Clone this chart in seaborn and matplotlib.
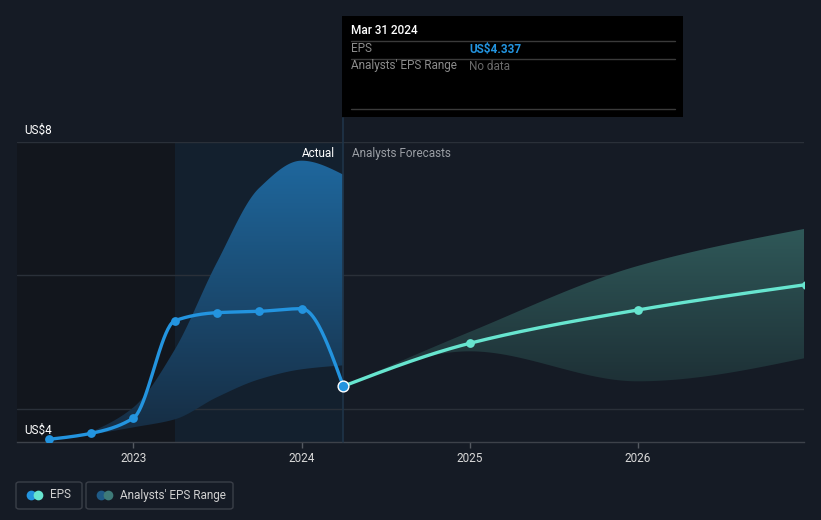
import numpy as np
import pandas as pd
import seaborn as sns
import matplotlib.pyplot as plt
from matplotlib.colors import LinearSegmentedColormap
from matplotlib.patches import Rectangle, FancyBboxPatch
from matplotlib.lines import Line2D

# ---- data ----
eps_dates = ['2022-06-30', '2022-09-30', '2022-12-31', '2023-03-31',
             '2023-06-30', '2023-09-30', '2023-12-31', '2024-03-31']
eps_values = [3.54, 3.63, 3.86, 5.32, 5.44, 5.46, 5.50, 4.337]

past_range_dates = ['2022-09-30', '2022-12-31', '2023-03-31', '2023-06-30',
                    '2023-09-30', '2023-12-31', '2024-03-31']
past_range_low = [3.61, 3.72, 3.84, 4.17, 4.44, 4.59, 4.65]
past_range_high = [3.65, 4.02, 4.89, 6.19, 7.31, 7.72, 7.51]

fc_dates = ['2024-03-31', '2024-12-31', '2025-12-31', '2026-12-31']
fc_eps = [4.337, 4.98, 5.48, 5.86]
fc_low = [4.337, 4.86, 4.41, 4.76]
fc_high = [4.337, 5.15, 6.14, 6.70]

year_ticks = [2023, 2024, 2025, 2026]
year_labels = ['2023', '2024', '2025', '2026']
y_labels = ['US$8', 'US$4']
grid_values = [8.0, 6.0, 4.0]

BG = '#151b25'
BLUE = '#2394df'
TEAL = '#67e5cf'


def dec_year(dates):
    d = pd.to_datetime(pd.Series(dates))
    days = np.where(d.dt.is_leap_year, 366, 365)
    return (d.dt.year + d.dt.dayofyear / days).to_numpy(dtype=float)


def smooth(x, y, n=300):
    # monotone cubic (same idea as d3 curveMonotoneX), only for drawing
    x = np.asarray(x, float)
    y = np.asarray(y, float)
    h = np.diff(x)
    d = np.diff(y) / h
    m = np.zeros_like(y)
    for i in range(1, len(y) - 1):
        if d[i - 1] * d[i] <= 0:
            m[i] = 0
        else:
            w1 = 2 * h[i] + h[i - 1]
            w2 = h[i] + 2 * h[i - 1]
            m[i] = (w1 + w2) / (w1 / d[i - 1] + w2 / d[i])
    if len(y) > 2:
        m[0] = (3 * d[0] - m[1]) / 2
        m[-1] = (3 * d[-1] - m[-2]) / 2
    else:
        m[:] = d[0]
    xs = np.linspace(x[0], x[-1], n)
    idx = np.clip(np.searchsorted(x, xs) - 1, 0, len(h) - 1)
    t = (xs - x[idx]) / h[idx]
    h00 = 2 * t**3 - 3 * t**2 + 1
    h10 = t**3 - 2 * t**2 + t
    h01 = -2 * t**3 + 3 * t**2
    h11 = t**3 - t**2
    ys = h00 * y[idx] + h10 * h[idx] * m[idx] + h01 * y[idx + 1] + h11 * h[idx] * m[idx + 1]
    return xs, ys


def gradient_fill(ax, x, lo, hi, c_bot, c_top, y0, y1, z):
    poly = ax.fill_between(x, lo, hi, facecolor='none', edgecolor='none')
    cmap = LinearSegmentedColormap.from_list('g', [c_bot, c_top])
    grad = np.linspace(0, 1, 256).reshape(-1, 1)
    im = ax.imshow(grad, cmap=cmap, aspect='auto', origin='lower',
                   extent=[x.min(), x.max(), y0, y1], zorder=z)
    im.set_clip_path(poly.get_paths()[0], transform=ax.transData)


sns.set_theme(style='dark')
plt.rcParams['font.family'] = ['Roboto', 'DejaVu Sans']

W, H = 821, 520
fig = plt.figure(figsize=(8.21, 5.2), dpi=100, facecolor=BG)


def fx(px):
    return px / W


def fy(py):
    return 1 - py / H


ax = fig.add_axes([fx(17), fy(442), fx(804) - fx(17), fy(142) - fy(442)])
ax.set_facecolor(BG)

x_eps = dec_year(eps_dates)
x_past = dec_year(past_range_dates)
x_fc = dec_year(fc_dates)
now = x_eps[-1]
XMIN, XMAX = 2022.307, 2026.99
YMIN, YMAX = 3.5, 8.0

# shaded periods
ax.axvspan(XMIN, x_eps[3], color='#12161d', zorder=0, lw=0)
ax.axvspan(x_eps[3], now, color='#13202e', zorder=0, lw=0)

for g in grid_values:
    ax.axhline(g, color='#2a3039', lw=1, zorder=1)

# analyst ranges
xs, lo = smooth(x_past, past_range_low)
_, hi = smooth(x_past, past_range_high)
gradient_fill(ax, xs, lo, hi, '#162b40', '#1f6ba3', YMIN, YMAX, 2)

xs, lo = smooth(x_fc, fc_low)
_, hi = smooth(x_fc, fc_high)
gradient_fill(ax, xs, lo, hi, '#1d2f35', '#305a5a', 4.3, 6.8, 2)

# EPS lines
xs, ys = smooth(x_eps, eps_values)
sns.lineplot(x=xs, y=ys, ax=ax, color=BLUE, lw=2.4, zorder=4)
xs, ys = smooth(x_fc, fc_eps)
sns.lineplot(x=xs, y=ys, ax=ax, color=TEAL, lw=2.4, zorder=4)

sns.scatterplot(x=x_eps[:-1], y=eps_values[:-1], ax=ax, color=BLUE, s=40,
                linewidth=0, zorder=5)
sns.scatterplot(x=x_fc[1:], y=fc_eps[1:], ax=ax, color=TEAL, s=40,
                linewidth=0, zorder=5)
sns.scatterplot(x=[now], y=[eps_values[-1]], ax=ax, color=BLUE, s=60,
                edgecolor='white', linewidth=1, zorder=6)

ax.axvline(now, ymin=0, ymax=(442 - 118) / 300, color='#1f3448', lw=1.2,
           zorder=3, clip_on=False)

ax.text(now - 0.05, 7.82, 'Actual', color='white', fontsize=8.5,
        ha='right', va='center', zorder=7)
ax.text(now + 0.05, 7.82, 'Analysts Forecasts', color='#9a9ea4', fontsize=8.5,
        ha='left', va='center', zorder=7)

ax.set_xlim(XMIN, XMAX)
ax.set_ylim(YMIN, YMAX)
ax.set_xticks(year_ticks)
ax.set_xticklabels(year_labels)
ax.set_yticks([])
ax.tick_params(axis='x', colors='#555a62', labelcolor='#d8d8d8', labelsize=8.5,
               length=4, width=1, pad=3, bottom=True)
for s in ['top', 'left', 'right']:
    ax.spines[s].set_visible(False)
ax.spines['bottom'].set_color('#3d424a')
ax.spines['bottom'].set_linewidth(1)
ax.set_xlabel('')
ax.set_ylabel('')
ax.grid(False)

fig.text(fx(24), fy(130), y_labels[0], color='white', fontsize=8.5, va='center')
fig.text(fx(24), fy(430), y_labels[1], color='white', fontsize=8.5, va='center')

# tooltip box
fig.add_artist(Rectangle((fx(342), fy(117)), fx(683) - fx(342), fy(16) - fy(117),
                         transform=fig.transFigure, facecolor='black',
                         edgecolor='none', zorder=10))
for py in [41.5, 58.5, 109]:
    fig.add_artist(Line2D([fx(351), fx(675)], [fy(py), fy(py)], transform=fig.transFigure,
                          color='#3a3a3a', lw=1, zorder=11))
fig.text(fx(351), fy(31), 'Mar 31 2024', color='white', fontsize=8.5,
         fontweight='medium', va='center', zorder=12)
fig.text(fx(351), fy(49), 'EPS', color='#8c8c8c', fontsize=8.5, va='center', zorder=12)
fig.text(fx(469), fy(49), 'US$4.337', color=BLUE, fontsize=8.5, fontweight='bold',
         va='center', zorder=12)
fig.text(fx(351), fy(66), "Analysts' EPS Range", color='#8c8c8c', fontsize=8.5,
         va='center', zorder=12)
fig.text(fx(469), fy(66), 'No data', color='#6a6a6a', fontsize=8.5,
         va='center', zorder=12)

# legend
legend_items = [('EPS', BLUE, TEAL, 16, 82), ("Analysts' EPS Range", '#1f5a86', '#3e7a78', 86, 233)]
for label, c1, c2, x0, x1 in legend_items:
    fig.add_artist(FancyBboxPatch((fx(x0), fy(509)), fx(x1) - fx(x0), fy(482) - fy(509),
                                  boxstyle='round,pad=0,rounding_size=0.004',
                                  transform=fig.transFigure, facecolor=BG,
                                  edgecolor='#3a3f48', lw=1, zorder=10))
    fig.add_artist(Line2D([fx(x0 + 15)], [fy(495)], marker='o', ms=7, color=c1,
                          mew=0, transform=fig.transFigure, zorder=11))
    fig.add_artist(Line2D([fx(x0 + 21.5)], [fy(495)], marker='o', ms=7, color=c2,
                          mew=0, transform=fig.transFigure, zorder=12))
    fig.text(fx(x0 + 34), fy(495), label, color='#d0d0d0', fontsize=8.5,
             va='center', zorder=12)

fig.savefig('out.png', dpi=100, facecolor=BG)
